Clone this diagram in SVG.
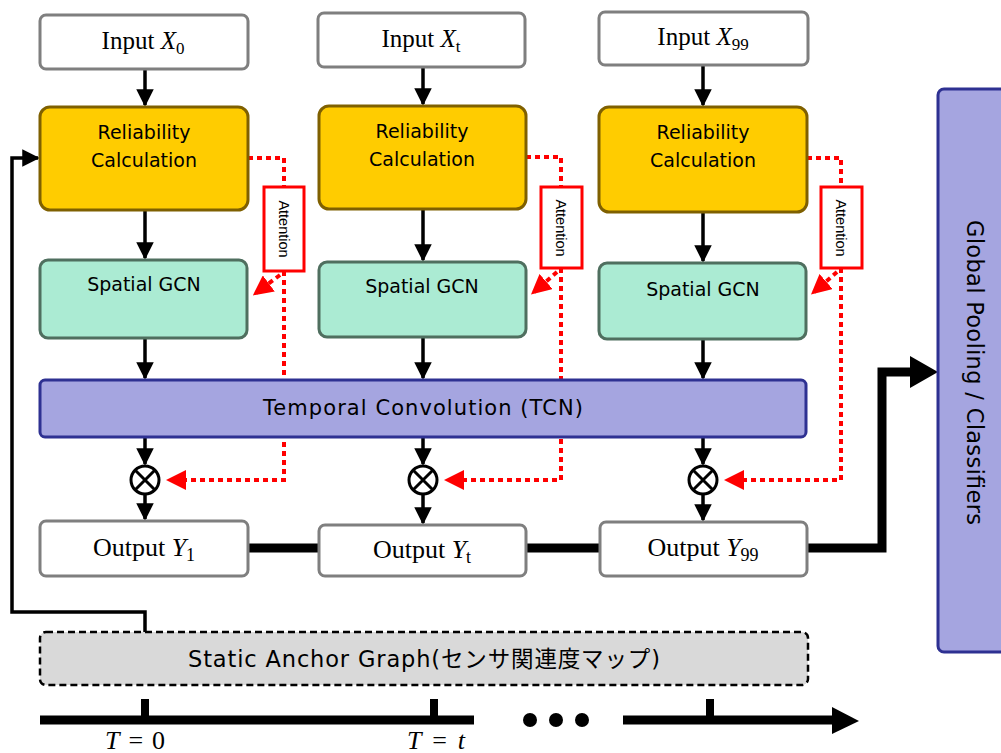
<svg xmlns="http://www.w3.org/2000/svg" width="1001" height="753" viewBox="0 0 1001 753">
<style>
.io{fill:#fff;stroke:#7f7f7f;stroke-width:3}
.rel{fill:#ffcc00;stroke:#7f6000;stroke-width:3}
.gcn{fill:#abebd3;stroke:#4f6f5f;stroke-width:3}
.tcn{fill:#a5a5e0;stroke:#2e3192;stroke-width:3}
.att{fill:#fff;stroke:#ff0000;stroke-width:3}
.ser{font-family:"Liberation Serif","DejaVu Serif",serif;fill:#000}
.sans{font-family:"DejaVu Sans","Noto Sans CJK JP",sans-serif;fill:#000}
.attt{font-family:"Liberation Sans",sans-serif;font-size:14.5px;fill:#000}
.blk{fill:none;stroke:#000;stroke-width:3.5}
.thick{fill:none;stroke:#000;stroke-width:9}
.red{fill:none;stroke:#ff0000;stroke-width:4;stroke-dasharray:5 4}
</style>
<defs>
<marker id="ab" markerWidth="5" markerHeight="5" refX="4.5" refY="2.5" orient="auto" markerUnits="strokeWidth"><path d="M0,0 L5,2.5 L0,5 z" fill="#000"/></marker>
<marker id="ar" markerWidth="5" markerHeight="5" refX="4" refY="2.5" orient="auto" markerUnits="strokeWidth"><path d="M0,0 L5,2.5 L0,5 z" fill="#ff0000"/></marker>
</defs>

<g id="connectors">
<line class="blk" x1="145" y1="69" x2="145" y2="105" marker-end="url(#ab)"/>
<line class="blk" x1="423" y1="67" x2="423" y2="104" marker-end="url(#ab)"/>
<line class="blk" x1="703" y1="65" x2="703" y2="105" marker-end="url(#ab)"/>
<line class="blk" x1="145" y1="210" x2="145" y2="258" marker-end="url(#ab)"/>
<line class="blk" x1="423" y1="209" x2="423" y2="260" marker-end="url(#ab)"/>
<line class="blk" x1="703" y1="212" x2="703" y2="261" marker-end="url(#ab)"/>
<line class="blk" x1="145" y1="338" x2="145" y2="378" marker-end="url(#ab)"/>
<line class="blk" x1="423" y1="337" x2="423" y2="378" marker-end="url(#ab)"/>
<line class="blk" x1="703" y1="339" x2="703" y2="378" marker-end="url(#ab)"/>
<line class="blk" x1="145" y1="437" x2="145" y2="464" marker-end="url(#ab)"/>
<line class="blk" x1="423" y1="437" x2="423" y2="464" marker-end="url(#ab)"/>
<line class="blk" x1="703" y1="437" x2="703" y2="464" marker-end="url(#ab)"/>
<line class="blk" x1="145" y1="494" x2="145" y2="519" marker-end="url(#ab)"/>
<line class="blk" x1="423" y1="494" x2="423" y2="523" marker-end="url(#ab)"/>
<line class="blk" x1="703" y1="494" x2="703" y2="520" marker-end="url(#ab)"/>
<line class="thick" x1="248" y1="548" x2="319" y2="548"/>
<line class="thick" x1="526" y1="548" x2="600" y2="548"/>
<path class="thick" d="M807,548 H882 V372 H912"/>
<path d="M910,356 L938,372 L910,388 z" fill="#000"/>
<path class="blk" d="M145,632 V612 H12 V158 H38" marker-end="url(#ab)"/>
<path class="red" d="M248,158 H284 V187"/>
<path class="red" d="M284,271 V480 H170" marker-end="url(#ar)"/>
<path class="red" d="M280,275 L256,293" marker-end="url(#ar)"/>
<path class="red" d="M526,157 H561 V188"/>
<path class="red" d="M561,268 V480 H448" marker-end="url(#ar)"/>
<path class="red" d="M557,272 L534,292" marker-end="url(#ar)"/>
<path class="red" d="M807,158 H841 V187"/>
<path class="red" d="M841,268 V480 H728" marker-end="url(#ar)"/>
<path class="red" d="M837,272 L814,292" marker-end="url(#ar)"/>
<line x1="40" y1="720" x2="474" y2="720" stroke="#000" stroke-width="9"/>
<line x1="145" y1="699" x2="145" y2="720" stroke="#000" stroke-width="8"/>
<line x1="434" y1="699" x2="434" y2="720" stroke="#000" stroke-width="8"/>
<circle cx="530" cy="720" r="7" fill="#000"/>
<circle cx="556" cy="720" r="7" fill="#000"/>
<circle cx="582" cy="720" r="7" fill="#000"/>
<line x1="623" y1="720" x2="835" y2="720" stroke="#000" stroke-width="9"/>
<line x1="710" y1="699" x2="710" y2="720" stroke="#000" stroke-width="8"/>
<path d="M832,707 L859,721 L832,734 z" fill="#000"/>
</g>

<g id="input0"><rect class="io" x="40" y="15" width="208" height="54" rx="6"/><text class="ser" x="143" y="49" font-size="25" text-anchor="middle">Input <tspan font-style="italic">X</tspan><tspan font-size="17" dy="5">0</tspan></text></g>
<g id="inputt"><rect class="io" x="318" y="13" width="207" height="54" rx="6"/><text class="ser" x="421" y="47" font-size="25" text-anchor="middle">Input <tspan font-style="italic">X</tspan><tspan font-size="17" dy="5">t</tspan></text></g>
<g id="input99"><rect class="io" x="599" y="12" width="209" height="53" rx="6"/><text class="ser" x="703" y="45" font-size="25" text-anchor="middle">Input <tspan font-style="italic">X</tspan><tspan font-size="17" dy="5">99</tspan></text></g>

<g id="rel0"><rect class="rel" x="40" y="107" width="208" height="103" rx="10"/><text class="sans" font-size="19" x="144" y="139" text-anchor="middle">Reliability</text><text class="sans" font-size="19" x="144" y="167" text-anchor="middle">Calculation</text></g>
<g id="relt"><rect class="rel" x="319" y="106" width="207" height="103" rx="10"/><text class="sans" font-size="19" x="422" y="138" text-anchor="middle">Reliability</text><text class="sans" font-size="19" x="422" y="166" text-anchor="middle">Calculation</text></g>
<g id="rel99"><rect class="rel" x="599" y="107" width="208" height="105" rx="10"/><text class="sans" font-size="19" x="703" y="139" text-anchor="middle">Reliability</text><text class="sans" font-size="19" x="703" y="167" text-anchor="middle">Calculation</text></g>

<g id="att0"><rect class="att" x="264" y="187" width="40" height="84"/><text class="attt" x="284" y="229" transform="rotate(90 284 229)" text-anchor="middle" dominant-baseline="central">Attention</text></g>
<g id="attt"><rect class="att" x="541" y="187" width="41" height="81"/><text class="attt" x="561" y="228" transform="rotate(90 561 228)" text-anchor="middle" dominant-baseline="central">Attention</text></g>
<g id="att99"><rect class="att" x="821" y="187" width="41" height="81"/><text class="attt" x="841" y="228" transform="rotate(90 841 228)" text-anchor="middle" dominant-baseline="central">Attention</text></g>

<g id="gcn0"><rect class="gcn" x="40" y="260" width="207" height="78" rx="8"/><text class="sans" font-size="19" x="144" y="291" text-anchor="middle">Spatial GCN</text></g>
<g id="gcnt"><rect class="gcn" x="319" y="262" width="207" height="75" rx="8"/><text class="sans" font-size="19" x="422" y="293" text-anchor="middle">Spatial GCN</text></g>
<g id="gcn99"><rect class="gcn" x="599" y="263" width="207" height="76" rx="8"/><text class="sans" font-size="19" x="703" y="296" text-anchor="middle">Spatial GCN</text></g>

<g id="tcn"><rect class="tcn" x="40" y="380" width="766" height="57" rx="5"/><text class="sans" x="263" y="415" font-size="21" textLength="320" lengthAdjust="spacing">Temporal Convolution (TCN)</text></g>

<g id="mul0"><circle cx="145" cy="480" r="14" fill="#fff" stroke="#000" stroke-width="3"/><path d="M135,470 L155,490 M155,470 L135,490" stroke="#000" stroke-width="3"/></g>
<g id="mult"><circle cx="423" cy="480" r="14" fill="#fff" stroke="#000" stroke-width="3"/><path d="M413,470 L433,490 M433,470 L413,490" stroke="#000" stroke-width="3"/></g>
<g id="mul99"><circle cx="703" cy="480" r="14" fill="#fff" stroke="#000" stroke-width="3"/><path d="M693,470 L713,490 M713,470 L693,490" stroke="#000" stroke-width="3"/></g>

<g id="out0"><rect class="io" x="40" y="521" width="208" height="55" rx="6"/><text class="ser" x="144" y="556" font-size="26" text-anchor="middle">Output <tspan font-style="italic">Y</tspan><tspan font-size="18" dy="5">1</tspan></text></g>
<g id="outt"><rect class="io" x="319" y="525" width="207" height="51" rx="6"/><text class="ser" x="422" y="558" font-size="26" text-anchor="middle">Output <tspan font-style="italic">Y</tspan><tspan font-size="18" dy="5">t</tspan></text></g>
<g id="out99"><rect class="io" x="600" y="522" width="207" height="54" rx="6"/><text class="ser" x="703" y="556" font-size="26" text-anchor="middle">Output <tspan font-style="italic">Y</tspan><tspan font-size="18" dy="5">99</tspan></text></g>

<g id="pool"><rect class="tcn" x="938" y="89" width="75" height="563" rx="6"/><text class="sans" x="975" y="220" font-size="22.5" transform="rotate(90 975 220)" dominant-baseline="central" textLength="305" lengthAdjust="spacing">Global Pooling / Classifiers</text></g>

<g id="anchor"><rect x="40" y="632" width="768" height="53" rx="6" fill="#d9d9d9" stroke="#000" stroke-width="2.5" stroke-dasharray="7 4"/><text class="sans" x="188" y="667" font-size="22.5" textLength="472" lengthAdjust="spacing">Static Anchor Graph(センサ関連度マップ)</text></g>

<g id="tlabels">
<text class="ser" x="105" y="749" font-size="26" textLength="60" lengthAdjust="spacing"><tspan font-style="italic">T</tspan> = 0</text>
<text class="ser" x="407" y="749" font-size="26" textLength="58" lengthAdjust="spacing"><tspan font-style="italic">T</tspan> = <tspan font-style="italic">t</tspan></text>
</g>
</svg>
